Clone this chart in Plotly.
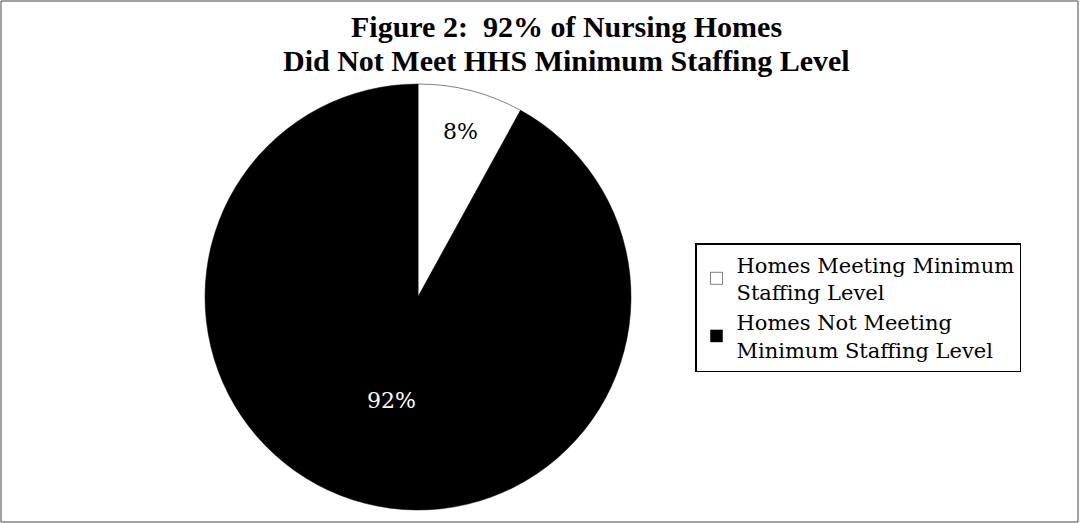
import plotly.graph_objects as go

title_lines = ["Figure 2:  92% of Nursing Homes", "Did Not Meet HHS Minimum Staffing Level"]
labels = ["Homes Meeting Minimum<br>Staffing Level", "Homes Not Meeting<br>Minimum Staffing Level"]
values = [8, 92]
slice_colors = ["#ffffff", "#000000"]
text_colors = ["#000000", "#ffffff"]

W, H = 1080, 523
cx, cy, r = 418, 297, 213

fig = go.Figure(go.Pie(
    labels=labels, values=values, sort=False, direction="clockwise", rotation=0,
    marker=dict(colors=slice_colors, line=dict(color="#000000", width=0.5)),
    textinfo="percent", texttemplate="%{percent:.0%}", textposition="inside",
    insidetextorientation="horizontal",
    textfont=dict(family="DejaVu Serif", size=22, color=text_colors),
    domain=dict(x=[(cx - r) / W, (cx + r) / W], y=[1 - (cy + r) / H, 1 - (cy - r) / H]),
    hoverinfo="label+percent",
))

annotations = []
for i, (line, ypx) in enumerate(zip(title_lines, [26, 61])):
    annotations.append(dict(text="<b>" + line + "</b>", xref="paper", yref="paper",
                            x=566 / W, y=1 - ypx / H, xanchor="center", yanchor="middle",
                            showarrow=False,
                            font=dict(family="Liberation Serif", size=30, color="black")))

fig.update_layout(
    width=W, height=H, margin=dict(l=0, r=0, t=0, b=0),
    paper_bgcolor="white", plot_bgcolor="white",
    annotations=annotations,
    legend=dict(x=695 / W, y=1 - 243 / H, xanchor="left", yanchor="top",
                bordercolor="black", borderwidth=1.5, bgcolor="white",
                font=dict(family="DejaVu Serif", size=21, color="black"),
                itemwidth=30),
    showlegend=True,
    shapes=[dict(type="rect", xref="paper", yref="paper",
                 x0=1 / W, y0=1 / H, x1=1 - 2 / W, y1=1 - 1 / H,
                 line=dict(color="#444444", width=1))],
)
fig.write_html("out.html", config={"displayModeBar": False},
               post_script="document.body.style.margin='0';document.body.style.overflow='hidden';")
